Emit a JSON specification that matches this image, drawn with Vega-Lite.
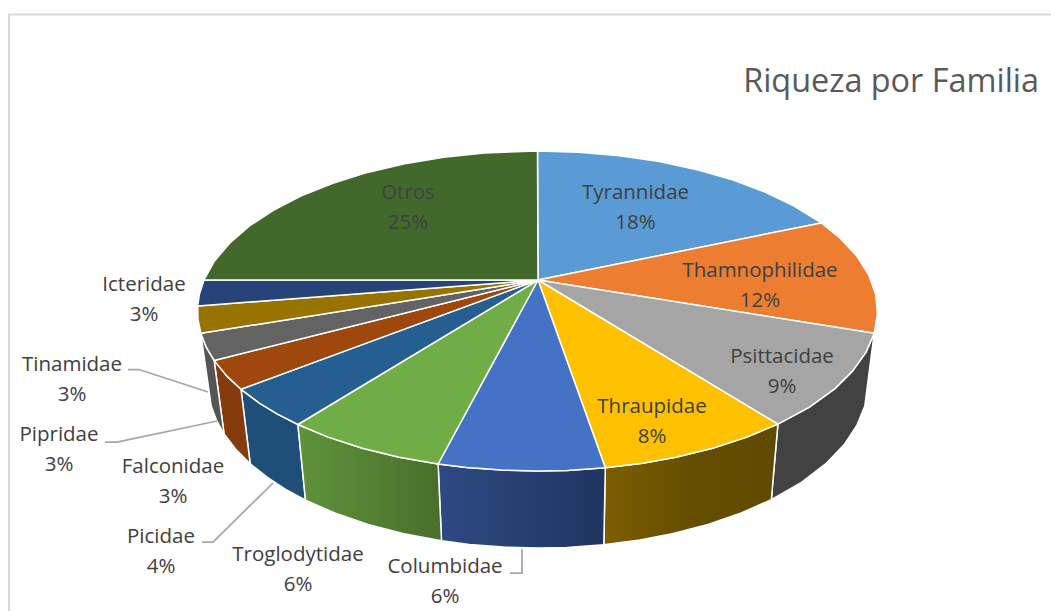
{
"$schema":"https://vega.github.io/schema/vega-lite/v6.json",
"width":1051,"height":611,"padding":0,"autosize":"none","background":"white",
"title":{"text":"Riqueza por Familia","anchor":"end","frame":"group","offset":-98,"dx":-12,"fontSize":32.4,"font":"Open Sans","fontWeight":"normal","color":"#595959"},
"config":{"view":{"stroke":null}},
"datasets":{
"frame":[{"i":0,"x":9,"y":611},{"i":1,"x":9,"y":14.5},{"i":2,"x":1051,"y":14.5}],
"tops":[
{"s":"Tyrannidae","i":0,"x":538,"y":280},{"s":"Tyrannidae","i":1,"x":537.5,"y":151},{"s":"Tyrannidae","i":2,"x":578.9,"y":152.2},{"s":"Tyrannidae","i":3,"x":619.7,"y":155.8},{"s":"Tyrannidae","i":4,"x":659.4,"y":161.6},{"s":"Tyrannidae","i":5,"x":697.1,"y":169.7},{"s":"Tyrannidae","i":6,"x":732.5,"y":179.9},{"s":"Tyrannidae","i":7,"x":765,"y":192.1},{"s":"Tyrannidae","i":8,"x":794.1,"y":206},{"s":"Tyrannidae","i":9,"x":821.3,"y":222.9},
{"s":"Thamnophilidae","i":0,"x":538,"y":280},{"s":"Thamnophilidae","i":1,"x":821.3,"y":222.9},{"s":"Thamnophilidae","i":2,"x":840.4,"y":238.4},{"s":"Thamnophilidae","i":3,"x":857,"y":256.3},{"s":"Thamnophilidae","i":4,"x":868.8,"y":275},{"s":"Thamnophilidae","i":5,"x":875.6,"y":294.3},{"s":"Thamnophilidae","i":6,"x":877.4,"y":313.8},{"s":"Thamnophilidae","i":7,"x":874.2,"y":333.3},
{"s":"Psittacidae","i":0,"x":538,"y":280},{"s":"Psittacidae","i":1,"x":874.2,"y":333.3},{"s":"Psittacidae","i":2,"x":865.9,"y":352.4},{"s":"Psittacidae","i":3,"x":852.7,"y":370.9},{"s":"Psittacidae","i":4,"x":834.9,"y":388.6},{"s":"Psittacidae","i":5,"x":809,"y":407.3},{"s":"Psittacidae","i":6,"x":777.9,"y":424.1},
{"s":"Thraupidae","i":0,"x":538,"y":280},{"s":"Thraupidae","i":1,"x":777.9,"y":424.1},{"s":"Thraupidae","i":2,"x":746.8,"y":437.1},{"s":"Thraupidae","i":3,"x":712.6,"y":448.2},{"s":"Thraupidae","i":4,"x":675.8,"y":457.2},{"s":"Thraupidae","i":5,"x":642.6,"y":463.2},{"s":"Thraupidae","i":6,"x":605.3,"y":467.8},
{"s":"Columbidae","i":0,"x":538,"y":280},{"s":"Columbidae","i":1,"x":605.3,"y":467.8},{"s":"Columbidae","i":2,"x":567.1,"y":470.4},{"s":"Columbidae","i":3,"x":537.5,"y":471},{"s":"Columbidae","i":4,"x":502,"y":470.1},{"s":"Columbidae","i":5,"x":466.8,"y":467.5},{"s":"Columbidae","i":6,"x":438.1,"y":464},
{"s":"Troglodytidae","i":0,"x":538,"y":280},{"s":"Troglodytidae","i":1,"x":438.1,"y":464},{"s":"Troglodytidae","i":2,"x":399.2,"y":457.2},{"s":"Troglodytidae","i":3,"x":362.4,"y":448.2},{"s":"Troglodytidae","i":4,"x":328.2,"y":437.1},{"s":"Troglodytidae","i":5,"x":297.9,"y":424.5},
{"s":"Picidae","i":0,"x":538,"y":280},{"s":"Picidae","i":1,"x":297.9,"y":424.5},{"s":"Picidae","i":2,"x":277.1,"y":413.8},{"s":"Picidae","i":3,"x":259,"y":402.8},{"s":"Picidae","i":4,"x":241,"y":389.3},
{"s":"Falconidae","i":0,"x":538,"y":280},{"s":"Falconidae","i":1,"x":241,"y":389.3},{"s":"Falconidae","i":2,"x":226.9,"y":376.1},{"s":"Falconidae","i":3,"x":214.1,"y":360.4},
{"s":"Pipridae","i":0,"x":538,"y":280},{"s":"Pipridae","i":1,"x":214.1,"y":360.4},{"s":"Pipridae","i":2,"x":206.2,"y":347},{"s":"Pipridae","i":3,"x":200.8,"y":333.3},
{"s":"Tinamidae","i":0,"x":538,"y":280},{"s":"Tinamidae","i":1,"x":200.8,"y":333.3},{"s":"Tinamidae","i":2,"x":198,"y":319.4},{"s":"Tinamidae","i":3,"x":197.7,"y":306},
{"s":"Icteridae","i":0,"x":538,"y":280},{"s":"Icteridae","i":1,"x":197.7,"y":306},{"s":"Icteridae","i":2,"x":199.4,"y":294.3},{"s":"Icteridae","i":3,"x":204,"y":279.9},
{"s":"Otros","i":0,"x":538,"y":280},{"s":"Otros","i":1,"x":204,"y":279.9},{"s":"Otros","i":2,"x":214.1,"y":261.6},{"s":"Otros","i":3,"x":229.4,"y":243.4},{"s":"Otros","i":4,"x":249.2,"y":226.2},{"s":"Otros","i":5,"x":273.3,"y":210.3},{"s":"Otros","i":6,"x":301.3,"y":195.9},{"s":"Otros","i":7,"x":332.9,"y":183.2},{"s":"Otros","i":8,"x":367.5,"y":172.4},{"s":"Otros","i":9,"x":404.7,"y":163.7},{"s":"Otros","i":10,"x":443.8,"y":157.2},{"s":"Otros","i":11,"x":484.3,"y":153},{"s":"Otros","i":12,"x":537.5,"y":151}
],
"walls":[
{"s":"Psittacidae","i":0,"x":874.2,"y":333.3},{"s":"Psittacidae","i":1,"x":865.9,"y":352.4},{"s":"Psittacidae","i":2,"x":852.7,"y":370.9},{"s":"Psittacidae","i":3,"x":834.9,"y":388.6},{"s":"Psittacidae","i":4,"x":809,"y":407.3},{"s":"Psittacidae","i":5,"x":777.9,"y":424.1},{"s":"Psittacidae","i":6,"x":771.3,"y":499.7},{"s":"Psittacidae","i":7,"x":801.5,"y":482.3},{"s":"Psittacidae","i":8,"x":826.6,"y":463},{"s":"Psittacidae","i":9,"x":844,"y":444.8},{"s":"Psittacidae","i":10,"x":856.7,"y":425.7},{"s":"Psittacidae","i":11,"x":864.8,"y":406},
{"s":"Thraupidae","i":0,"x":777.9,"y":424.1},{"s":"Thraupidae","i":1,"x":746.8,"y":437.1},{"s":"Thraupidae","i":2,"x":712.6,"y":448.2},{"s":"Thraupidae","i":3,"x":675.8,"y":457.2},{"s":"Thraupidae","i":4,"x":642.6,"y":463.2},{"s":"Thraupidae","i":5,"x":605.3,"y":467.8},{"s":"Thraupidae","i":6,"x":603.8,"y":544.7},{"s":"Thraupidae","i":7,"x":640,"y":539.9},{"s":"Thraupidae","i":8,"x":672.2,"y":533.7},{"s":"Thraupidae","i":9,"x":708,"y":524.4},{"s":"Thraupidae","i":10,"x":741.2,"y":513},{"s":"Thraupidae","i":11,"x":771.3,"y":499.7},
{"s":"Columbidae","i":0,"x":605.3,"y":467.8},{"s":"Columbidae","i":1,"x":567.1,"y":470.4},{"s":"Columbidae","i":2,"x":537.5,"y":471},{"s":"Columbidae","i":3,"x":502,"y":470.1},{"s":"Columbidae","i":4,"x":466.8,"y":467.5},{"s":"Columbidae","i":5,"x":438.1,"y":464},{"s":"Columbidae","i":6,"x":441.5,"y":540.8},{"s":"Columbidae","i":7,"x":469.4,"y":544.4},{"s":"Columbidae","i":8,"x":503.5,"y":547.1},{"s":"Columbidae","i":9,"x":538,"y":548},{"s":"Columbidae","i":10,"x":566.8,"y":547.4},{"s":"Columbidae","i":11,"x":603.8,"y":544.7},
{"s":"Troglodytidae","i":0,"x":438.1,"y":464},{"s":"Troglodytidae","i":1,"x":399.2,"y":457.2},{"s":"Troglodytidae","i":2,"x":362.4,"y":448.2},{"s":"Troglodytidae","i":3,"x":328.2,"y":437.1},{"s":"Troglodytidae","i":4,"x":297.9,"y":424.5},{"s":"Troglodytidae","i":5,"x":305.5,"y":500.1},{"s":"Troglodytidae","i":6,"x":334.8,"y":513},{"s":"Troglodytidae","i":7,"x":368,"y":524.4},{"s":"Troglodytidae","i":8,"x":403.8,"y":533.7},{"s":"Troglodytidae","i":9,"x":441.5,"y":540.8},
{"s":"Picidae","i":0,"x":297.9,"y":424.5},{"s":"Picidae","i":1,"x":277.1,"y":413.8},{"s":"Picidae","i":2,"x":259,"y":402.8},{"s":"Picidae","i":3,"x":241,"y":389.3},{"s":"Picidae","i":4,"x":250.2,"y":463.8},{"s":"Picidae","i":5,"x":267.7,"y":477.6},{"s":"Picidae","i":6,"x":285.2,"y":489.1},{"s":"Picidae","i":7,"x":305.5,"y":500.1},
{"s":"Falconidae","i":0,"x":241,"y":389.3},{"s":"Falconidae","i":1,"x":226.9,"y":376.1},{"s":"Falconidae","i":2,"x":214.1,"y":360.4},{"s":"Falconidae","i":3,"x":224.1,"y":434},{"s":"Falconidae","i":4,"x":236.5,"y":450.1},{"s":"Falconidae","i":5,"x":250.2,"y":463.8},
{"s":"Pipridae","i":0,"x":214.1,"y":360.4},{"s":"Pipridae","i":1,"x":206.2,"y":347},{"s":"Pipridae","i":2,"x":200.8,"y":333.3},{"s":"Pipridae","i":3,"x":211.2,"y":406},{"s":"Pipridae","i":4,"x":216.4,"y":420.1},{"s":"Pipridae","i":5,"x":224.1,"y":434}
],
"leaders":[
{"s":"Tinamidae","i":0,"x":128,"y":369.5},{"s":"Tinamidae","i":1,"x":139,"y":369.5},{"s":"Tinamidae","i":2,"x":208,"y":392},
{"s":"Pipridae","i":0,"x":105,"y":442},{"s":"Pipridae","i":1,"x":117,"y":442},{"s":"Pipridae","i":2,"x":217,"y":421},
{"s":"Picidae","i":0,"x":202,"y":542},{"s":"Picidae","i":1,"x":213,"y":542},{"s":"Picidae","i":2,"x":273,"y":483},
{"s":"Columbidae","i":0,"x":510,"y":573},{"s":"Columbidae","i":1,"x":522,"y":573},{"s":"Columbidae","i":2,"x":522,"y":549}
],
"labels":[
{"family":"Tyrannidae","pct":18,"label":"Tyrannidae\n18%","x":635.5,"y":193},
{"family":"Thamnophilidae","pct":12,"label":"Thamnophilidae\n12%","x":760,"y":271},
{"family":"Psittacidae","pct":9,"label":"Psittacidae\n9%","x":782,"y":357},
{"family":"Thraupidae","pct":8,"label":"Thraupidae\n8%","x":652,"y":407},
{"family":"Columbidae","pct":6,"label":"Columbidae\n6%","x":445,"y":567},
{"family":"Troglodytidae","pct":6,"label":"Troglodytidae\n6%","x":298,"y":555},
{"family":"Picidae","pct":4,"label":"Picidae\n4%","x":161,"y":537},
{"family":"Falconidae","pct":3,"label":"Falconidae\n3%","x":173,"y":467},
{"family":"Pipridae","pct":3,"label":"Pipridae\n3%","x":59,"y":435},
{"family":"Tinamidae","pct":3,"label":"Tinamidae\n3%","x":72,"y":365},
{"family":"Icteridae","pct":3,"label":"Icteridae\n3%","x":144,"y":285},
{"family":"Otros","pct":25,"label":"Otros\n25%","x":408,"y":193}
]
},
"encoding":{
 "x":{"field":"x","type":"quantitative","scale":{"domain":[0,1051],"nice":false,"zero":false},"axis":null},
 "y":{"field":"y","type":"quantitative","scale":{"domain":[611,0],"nice":false,"zero":false},"axis":null},
 "order":{"field":"i","type":"quantitative"}
},
"layer":[
{"data":{"name":"frame"},
 "mark":{"type":"line","stroke":"#d9d9d9","strokeWidth":2}},
{"data":{"name":"walls"},"transform":[{"filter":"datum.s=='Psittacidae'||datum.s=='Picidae'||datum.s=='Falconidae'||datum.s=='Pipridae'"}],
 "mark":{"type":"line","filled":true,"interpolate":"linear-closed","stroke":"white","strokeWidth":1.5,"strokeJoin":"round"},
 "encoding":{
 "fill":{"field":"s","type":"nominal","legend":null,"scale":{
  "domain":["Psittacidae","Picidae","Falconidae","Pipridae"],
  "range":["#424242","#1f4e79","#843c0c","#555555"]}}}},
{"data":{"name":"walls"},"transform":[{"filter":"datum.s=='Thraupidae'"}],
 "mark":{"type":"line","filled":true,"interpolate":"linear-closed","stroke":"white","strokeWidth":1.5,"strokeJoin":"round",
 "fill":{"gradient":"linear","x1":0,"y1":0,"x2":1,"y2":0,"stops":[{"offset":0,"color":"#7d5e00"},{"offset":0.5,"color":"#654e00"},{"offset":1,"color":"#604a00"}]}}},
{"data":{"name":"walls"},"transform":[{"filter":"datum.s=='Columbidae'"}],
 "mark":{"type":"line","filled":true,"interpolate":"linear-closed","stroke":"white","strokeWidth":1.5,"strokeJoin":"round",
 "fill":{"gradient":"linear","x1":0,"y1":0,"x2":1,"y2":0,"stops":[{"offset":0,"color":"#2d4a82"},{"offset":1,"color":"#203560"}]}}},
{"data":{"name":"walls"},"transform":[{"filter":"datum.s=='Troglodytidae'"}],
 "mark":{"type":"line","filled":true,"interpolate":"linear-closed","stroke":"white","strokeWidth":1.5,"strokeJoin":"round",
 "fill":{"gradient":"linear","x1":0,"y1":0,"x2":1,"y2":0,"stops":[{"offset":0,"color":"#5f933b"},{"offset":1,"color":"#496f2b"}]}}},
{"data":{"name":"tops"},
 "mark":{"type":"line","filled":true,"interpolate":"linear-closed","stroke":"white","strokeWidth":1.5,"strokeJoin":"round"},
 "encoding":{
 "fill":{"field":"s","type":"nominal","legend":null,"scale":{
  "domain":["Tyrannidae","Thamnophilidae","Psittacidae","Thraupidae","Columbidae","Troglodytidae","Picidae","Falconidae","Pipridae","Tinamidae","Icteridae","Otros"],
  "range":["#5b9bd5","#ed7d31","#a5a5a5","#ffc000","#4472c4","#70ad47","#255e91","#9e480e","#636363","#997300","#264478","#43682b"]}}}},
{"data":{"name":"leaders"},
 "mark":{"type":"line","stroke":"#a6a6a6","strokeWidth":1.75},
 "encoding":{"detail":{"field":"s"}}},
{"data":{"name":"labels"},
 "mark":{"type":"text","font":"Open Sans","fontSize":20.5,"lineHeight":30,"lineBreak":"\n","align":"center","baseline":"middle","color":"#404040"},
 "encoding":{"order":null,"text":{"field":"label"}}}
],
"resolve":{"scale":{"fill":"independent"}}
}
